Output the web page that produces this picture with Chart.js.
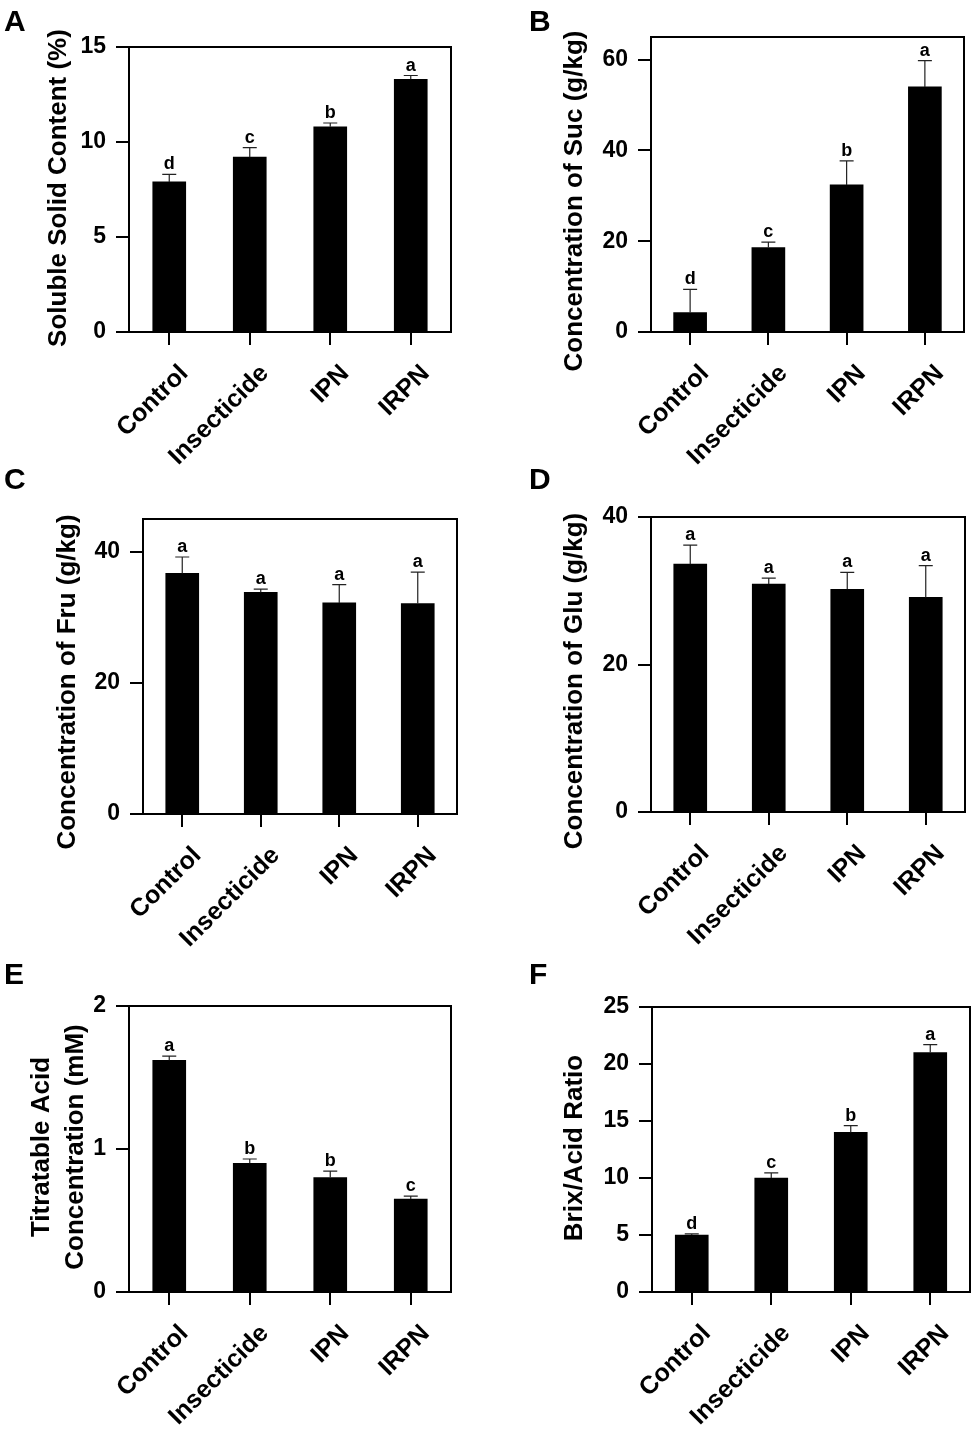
<!DOCTYPE html>
<html>
<head>
<meta charset="utf-8">
<script src="https://cdn.jsdelivr.net/npm/chart.js@4.4.1/dist/chart.umd.min.js"></script>
<style>
  body { margin: 0; background: #fff; }
  #wrap { position: relative; width: 975px; height: 1433px; overflow: hidden; }
  #wrap canvas { position: absolute; }
  .tag { position: absolute; font: bold 30px "Liberation Sans", Arial, sans-serif; line-height: 1; color: #000; }
</style>
</head>
<body>
<div id="wrap">
  <canvas id="cA"></canvas>
  <canvas id="cB"></canvas>
  <canvas id="cC"></canvas>
  <canvas id="cD"></canvas>
  <canvas id="cE"></canvas>
  <canvas id="cF"></canvas>
  <div class="tag" style="left:4px;top:6px">A</div>
  <div class="tag" style="left:529px;top:6px">B</div>
  <div class="tag" style="left:4px;top:464px">C</div>
  <div class="tag" style="left:529px;top:464px">D</div>
  <div class="tag" style="left:4px;top:959px">E</div>
  <div class="tag" style="left:529px;top:959px">F</div>
</div>
<script>
const FONT = '"Liberation Sans", Arial, sans-serif';

const categories = ['Control', 'Insecticide', 'IPN', 'IRPN'];

// A - soluble solid content
const sscMean = [7.9, 9.2, 10.8, 13.3];
const sscSd = [0.4, 0.5, 0.2, 0.2];
const sscLetters = ['d', 'c', 'b', 'a'];
const sscTicks = [0, 5, 10, 15];

// B - sucrose
const sucMean = [4.3, 18.6, 32.4, 54.0];
const sucSd = [5.1, 1.2, 5.3, 5.8];
const sucLetters = ['d', 'c', 'b', 'a'];
const sucTicks = [0, 20, 40, 60];

// C - fructose
const fruMean = [36.7, 33.8, 32.2, 32.1];
const fruSd = [2.5, 0.5, 2.8, 4.8];
const fruLetters = ['a', 'a', 'a', 'a'];
const fruTicks = [0, 20, 40];

// D - glucose
const gluMean = [33.6, 30.9, 30.2, 29.1];
const gluSd = [2.6, 0.8, 2.3, 4.3];
const gluLetters = ['a', 'a', 'a', 'a'];
const gluTicks = [0, 20, 40];

// E - titratable acid
const taMean = [1.62, 0.90, 0.80, 0.65];
const taSd = [0.03, 0.03, 0.045, 0.02];
const taLetters = ['a', 'b', 'b', 'c'];
const taTicks = [0, 1, 2];

// F - brix/acid ratio
const ratioMean = [5.0, 10.0, 14.0, 21.0];
const ratioSd = [0.1, 0.45, 0.6, 0.7];
const ratioLetters = ['d', 'c', 'b', 'a'];
const ratioTicks = [0, 5, 10, 15, 20, 25];

// canvas: [left, top, w, h]; box: plot area in page coords [l, t, r, b]
const panels = [
  { id: 'cA', mean: sscMean, sd: sscSd, letters: sscLetters, ticks: sscTicks, yMax: 15,
    title: ['Soluble Solid Content (%)'], titleX: [59], titleY: 188,
    canvas: [0, 0, 487, 500], box: [129, 47, 451, 332] },
  { id: 'cB', mean: sucMean, sd: sucSd, letters: sucLetters, ticks: sucTicks, yMax: 65,
    title: ['Concentration of Suc (g/kg)'], titleX: [575], titleY: 201,
    canvas: [487, 0, 488, 500], box: [651, 37, 964, 332] },
  { id: 'cC', mean: fruMean, sd: fruSd, letters: fruLetters, ticks: fruTicks, yMax: 45,
    title: ['Concentration of Fru (g/kg)'], titleX: [68], titleY: 682,
    canvas: [0, 470, 487, 505], box: [143, 519, 457, 814] },
  { id: 'cD', mean: gluMean, sd: gluSd, letters: gluLetters, ticks: gluTicks, yMax: 40,
    title: ['Concentration of Glu (g/kg)'], titleX: [575], titleY: 681,
    canvas: [487, 470, 488, 505], box: [651, 517, 965, 812] },
  { id: 'cE', mean: taMean, sd: taSd, letters: taLetters, ticks: taTicks, yMax: 2,
    title: ['Titratable Acid', 'Concentration (mM)'], titleX: [42, 76], titleY: 1147,
    canvas: [0, 975, 487, 458], box: [129, 1006, 451, 1292] },
  { id: 'cF', mean: ratioMean, sd: ratioSd, letters: ratioLetters, ticks: ratioTicks, yMax: 25,
    title: ['Brix/Acid Ratio'], titleX: [575], titleY: 1148,
    canvas: [487, 975, 488, 458], box: [652, 1007, 970, 1292] }
];

function makePanel(p) {
  const [cx, cy, cw, ch] = p.canvas;
  const [l, t, r, b] = p.box;
  const el = document.getElementById(p.id);
  el.width = cw; el.height = ch;
  el.style.left = cx + 'px'; el.style.top = cy + 'px';

  // error bars, letters, box frame and axis title
  const extras = {
    id: 'extras' + p.id,
    afterDatasetsDraw(chart) {
      const ctx = chart.ctx, ys = chart.scales.y;
      const meta = chart.getDatasetMeta(0);
      ctx.save();
      meta.data.forEach((bar, i) => {
        const y1 = ys.getPixelForValue(p.mean[i] + p.sd[i]);
        ctx.strokeStyle = '#222';
        ctx.lineWidth = 1.2;
        ctx.beginPath();
        ctx.moveTo(bar.x, bar.y);
        ctx.lineTo(bar.x, y1);
        ctx.moveTo(bar.x - 7, y1);
        ctx.lineTo(bar.x + 7, y1);
        ctx.stroke();
        ctx.fillStyle = '#000';
        ctx.font = 'bold 18px ' + FONT;
        ctx.textAlign = 'center';
        ctx.textBaseline = 'alphabetic';
        ctx.fillText(p.letters[i], bar.x, y1 - 5);
      });
      ctx.restore();
    },
    afterDraw(chart) {
      const ctx = chart.ctx, a = chart.chartArea;
      ctx.save();
      ctx.strokeStyle = '#000';
      ctx.lineWidth = 2;
      ctx.beginPath();
      ctx.moveTo(a.left, a.top);
      ctx.lineTo(a.right, a.top);
      ctx.lineTo(a.right, a.bottom);
      ctx.stroke();
      ctx.fillStyle = '#000';
      ctx.font = 'bold 26px ' + FONT;
      ctx.textAlign = 'center';
      ctx.textBaseline = 'middle';
      p.title.forEach((txt, i) => {
        ctx.save();
        ctx.translate(p.titleX[i] - cx, p.titleY - cy);
        ctx.rotate(-Math.PI / 2);
        ctx.fillText(txt, 0, 0);
        ctx.restore();
      });
      ctx.restore();
    }
  };

  new Chart(el, {
    type: 'bar',
    data: {
      labels: categories,
      datasets: [{ data: p.mean, backgroundColor: '#000', barThickness: 33 }]
    },
    options: {
      responsive: false,
      animation: false,
      layout: { padding: { left: 0, top: t - cy, right: cx + cw - r, bottom: 0 } },
      plugins: { legend: { display: false }, tooltip: { enabled: false } },
      scales: {
        x: {
          grid: { offset: false, drawOnChartArea: false, color: '#000', lineWidth: 2, tickLength: 13 },
          border: { color: '#000', width: 2 },
          ticks: { color: '#000', font: { family: FONT, size: 25, weight: 'bold' },
                   minRotation: 45, maxRotation: 45, autoSkip: false, padding: 14, labelOffset: 15 },
          afterFit: s => { s.height = cy + ch - b; }
        },
        y: {
          min: 0, max: p.yMax,
          grid: { drawOnChartArea: false, color: '#000', lineWidth: 2, tickLength: 13 },
          border: { color: '#000', width: 2 },
          ticks: { color: '#000', font: { family: FONT, size: 23, weight: 'bold' }, padding: 10 },
          afterBuildTicks: s => { s.ticks = p.ticks.map(v => ({ value: v })); },
          afterFit: s => { s.width = l - cx; }
        }
      }
    },
    plugins: [extras]
  });
}

panels.forEach(makePanel);
</script>
</body>
</html>
